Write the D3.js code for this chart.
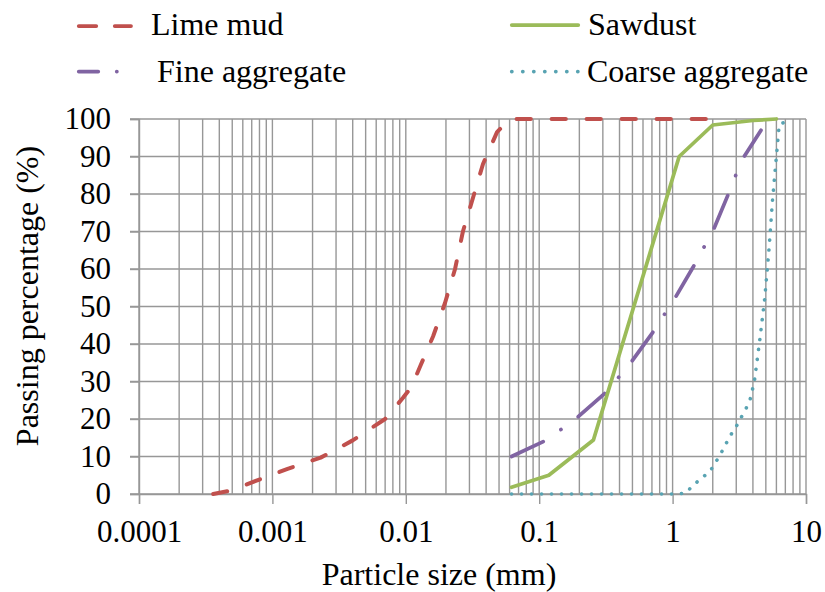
<!DOCTYPE html>
<html>
<head>
<meta charset="utf-8">
<script src="https://cdn.jsdelivr.net/npm/d3@7/dist/d3.min.js"></script>
<style>
  body { margin: 0; background: #fff; }
  svg { display: block; }
</style>
</head>
<body>
<svg id="chart" width="825" height="592"></svg>
<script>
// Grain size distribution
const limeMudSize = [0.00036, 0.0005, 0.00075, 0.0013, 0.0023, 0.004, 0.007, 0.0095, 0.011, 0.0128,
                     0.016, 0.0197, 0.0234, 0.0268, 0.0319, 0.0379, 0.0483, 0.06, 2];
const limeMudPass = [0, 1, 3.5, 6.7, 9.7, 14.3, 20, 25.6, 28.5, 34,
                     42, 51, 60, 70, 79, 88, 96.5, 100, 100];

const sawdustSize = [0.062, 0.118, 0.255, 1.12, 2.0, 4.0, 6.0];
const sawdustPass = [1.8, 5, 14.4, 90, 98.4, 99.6, 100];

const fineSize = [0.062, 0.114, 0.196, 0.321, 0.493, 0.717, 1.04, 1.43, 2.02, 2.57, 3.3, 4.6];
const finePass = [10, 14.4, 20.6, 27.3, 35.3, 43.3, 52.2, 60.6, 70.4, 79.3, 89, 97];

const coarseSize = [0.062, 1.1, 1.26, 1.43, 1.65, 1.92, 2.27, 2.48, 2.7, 3.0, 3.53, 3.8, 4.1,
                    4.5, 4.9, 5.3, 5.6, 6.0, 6.3, 7.8];
const coarsePass = [0, 0, 0.3, 2.4, 4.2, 6.2, 10.4, 13, 15.5, 18, 22.6, 25, 30,
                    41, 52, 66, 78, 90, 98.5, 100];

const sizeTicks = [0.0001, 0.001, 0.01, 0.1, 1, 10];
const sizeTickLabels = ["0.0001", "0.001", "0.01", "0.1", "1", "10"];
const passTicks = [0, 10, 20, 30, 40, 50, 60, 70, 80, 90, 100];

const seriesNames = ["Lime mud", "Sawdust", "Fine aggregate", "Coarse aggregate"];

const FONT = "Liberation Serif";
const svg = d3.select("#chart");
const plotLeft = 139, plotRight = 806, plotTop = 119, plotBottom = 494;

const x = d3.scaleLog().domain([0.0001, 10]).range([plotLeft, plotRight]);
const y = d3.scaleLinear().domain([0, 100]).range([plotBottom, plotTop]);

const GRID = "#979797";

// vertical grid: every 1..9 multiple of each decade
svg.append("g")
  .selectAll("line")
  .data(x.ticks())
  .join("line")
  .attr("x1", d => x(d)).attr("x2", d => x(d))
  .attr("y1", plotTop).attr("y2", plotBottom)
  .attr("stroke", GRID)
  .attr("stroke-width", 1.4);

// horizontal grid, poking out left as tick marks
svg.append("g")
  .selectAll("line")
  .data(passTicks)
  .join("line")
  .attr("x1", plotLeft - 9).attr("x2", plotRight)
  .attr("y1", d => y(d)).attr("y2", d => y(d))
  .attr("stroke", GRID)
  .attr("stroke-width", 1.4);

// x axis: major ticks + labels
const xAxis = svg.append("g")
  .attr("transform", `translate(0,${plotBottom})`)
  .call(d3.axisBottom(x)
    .tickValues(sizeTicks)
    .tickFormat((d, i) => sizeTickLabels[i])
    .tickSize(10)
    .tickPadding(16));
xAxis.select(".domain").attr("stroke", GRID).attr("stroke-width", 1.4);
xAxis.selectAll(".tick line").attr("stroke", GRID).attr("stroke-width", 1.4);

// y axis labels
const yAxis = svg.append("g")
  .attr("transform", `translate(${plotLeft},0)`)
  .call(d3.axisLeft(y).tickValues(passTicks).tickSize(9).tickPadding(19));
yAxis.select(".domain").attr("stroke", GRID).attr("stroke-width", 1.4);
yAxis.selectAll(".tick line").attr("stroke", GRID).attr("stroke-width", 1.4);

svg.selectAll(".tick text")
  .style("font-family", FONT)
  .style("font-size", "31px")
  .attr("fill", "#000");

// series
const styles = {
  "Lime mud":         { color: "#c0504d", dash: "14.25,20.75", width: 4 },
  "Sawdust":          { color: "#9bbb59", dash: null,          width: 3.75 },
  "Fine aggregate":   { color: "#8064a2", dash: "35,21.5,0.1,21.5", width: 3.75 },
  "Coarse aggregate": { color: "#58a3b2", dash: "0.1,9.9",     width: 3.6 },
};

const series = [
  { name: "Lime mud",         pts: d3.zip(limeMudSize, limeMudPass) },
  { name: "Fine aggregate",   pts: d3.zip(fineSize, finePass) },
  { name: "Sawdust",          pts: d3.zip(sawdustSize, sawdustPass) },
  { name: "Coarse aggregate", pts: d3.zip(coarseSize, coarsePass) },
];

const line = d3.line().x(d => x(d[0])).y(d => y(d[1]));

svg.append("g")
  .selectAll("path")
  .data(series)
  .join("path")
  .attr("d", d => line(d.pts))
  .attr("fill", "none")
  .attr("stroke", d => styles[d.name].color)
  .attr("stroke-width", d => styles[d.name].width)
  .attr("stroke-dasharray", d => styles[d.name].dash)
  .attr("stroke-linecap", "round")
  .attr("stroke-linejoin", "round");

// legend (two rows, two columns)
const legend = [
  { name: seriesNames[0], x1: 78.75, x2: 131,   ly: 26,   tx: 151, ty: 35,   dash: "17.5,18.5" },
  { name: seriesNames[1], x1: 511.75, x2: 578.25, ly: 25, tx: 588, ty: 35,   dash: null },
  { name: seriesNames[2], x1: 78.75, x2: 117,   ly: 71.5, tx: 157, ty: 81.5, dash: "19.5,18.5,0.1,100" },
  { name: seriesNames[3], x1: 511.75, x2: 578,  ly: 71.5, tx: 587, ty: 81.5, dash: "0.1,10.9" },
];

const lg = svg.append("g").selectAll("g").data(legend).join("g");
lg.append("line")
  .attr("x1", d => d.x1).attr("x2", d => d.x2)
  .attr("y1", d => d.ly).attr("y2", d => d.ly)
  .attr("stroke", d => styles[d.name].color)
  .attr("stroke-width", 3.75)
  .attr("stroke-linecap", "round")
  .attr("stroke-dasharray", d => d.dash);
lg.append("text")
  .attr("x", d => d.tx).attr("y", d => d.ty)
  .style("font-family", FONT)
  .style("font-size", "32px")
  .text(d => d.name);

// axis titles
svg.append("text")
  .attr("x", 439).attr("y", 585)
  .attr("text-anchor", "middle")
  .style("font-family", FONT)
  .style("font-size", "32px")
  .text("Particle size (mm)");

svg.append("text")
  .attr("transform", "translate(38,296) rotate(-90)")
  .attr("text-anchor", "middle")
  .style("font-family", FONT)
  .style("font-size", "32px")
  .text("Passing percentage (%)");
</script>
</body>
</html>
